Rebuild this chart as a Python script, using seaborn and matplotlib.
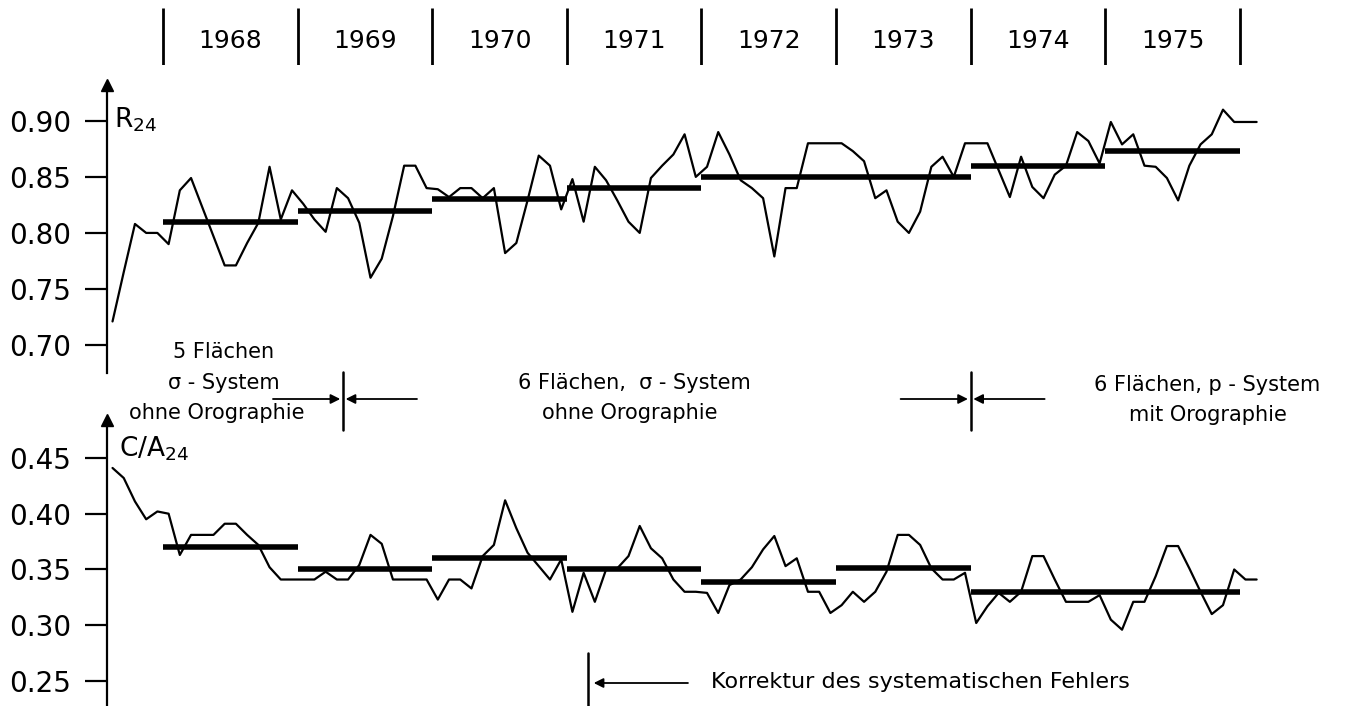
import numpy as np
import pandas as pd
import matplotlib.pyplot as plt
import matplotlib.transforms as mtransforms
import seaborn as sns

# monthly values, first point = August 1967
r24 = [0.721, 0.765, 0.808, 0.800, 0.800, 0.790, 0.838, 0.849, 0.823, 0.797,
       0.771, 0.771, 0.791, 0.809, 0.859, 0.812, 0.838, 0.826, 0.812, 0.801,
       0.840, 0.831, 0.809, 0.760, 0.777, 0.815, 0.860, 0.860, 0.840, 0.839,
       0.832, 0.840, 0.840, 0.831, 0.840, 0.782, 0.791, 0.829, 0.869, 0.860,
       0.821, 0.848, 0.810, 0.859, 0.847, 0.829, 0.810, 0.800, 0.849, 0.860,
       0.870, 0.888, 0.850, 0.859, 0.890, 0.870, 0.847, 0.840, 0.831, 0.779,
       0.840, 0.840, 0.880, 0.880, 0.880, 0.880, 0.873, 0.864, 0.831, 0.838,
       0.810, 0.800, 0.819, 0.859, 0.868, 0.850, 0.880, 0.880, 0.880, 0.856,
       0.832, 0.868, 0.841, 0.831, 0.852, 0.860, 0.890, 0.882, 0.862, 0.899,
       0.879, 0.888, 0.860, 0.859, 0.849, 0.829, 0.860, 0.879, 0.888, 0.910,
       0.899, 0.899, 0.899]
ca24 = [0.441, 0.432, 0.411, 0.395, 0.402, 0.400, 0.363, 0.381, 0.381, 0.381,
        0.391, 0.391, 0.381, 0.372, 0.352, 0.341, 0.341, 0.341, 0.341, 0.348,
        0.341, 0.341, 0.354, 0.381, 0.373, 0.341, 0.341, 0.341, 0.341, 0.323,
        0.341, 0.341, 0.333, 0.362, 0.372, 0.412, 0.387, 0.365, 0.353, 0.341,
        0.359, 0.312, 0.347, 0.321, 0.350, 0.351, 0.362, 0.389, 0.369, 0.360,
        0.341, 0.330, 0.330, 0.329, 0.311, 0.336, 0.341, 0.352, 0.368, 0.380,
        0.353, 0.360, 0.330, 0.330, 0.311, 0.318, 0.330, 0.321, 0.330, 0.348,
        0.381, 0.381, 0.372, 0.351, 0.341, 0.341, 0.347, 0.302, 0.317, 0.329,
        0.321, 0.330, 0.362, 0.362, 0.341, 0.321, 0.321, 0.321, 0.327, 0.305,
        0.296, 0.321, 0.321, 0.344, 0.371, 0.371, 0.351, 0.330, 0.310, 0.318,
        0.350, 0.341, 0.341]

# yearly means (start year, end year, value)
r24_mean_start = [1968, 1969, 1970, 1971, 1972, 1974, 1975]
r24_mean_end = [1969, 1970, 1971, 1972, 1974, 1975, 1976]
r24_mean_val = [0.81, 0.82, 0.83, 0.84, 0.85, 0.86, 0.873]
ca24_mean_start = [1968, 1969, 1970, 1971, 1972, 1973, 1974]
ca24_mean_end = [1969, 1970, 1971, 1972, 1973, 1974, 1976]
ca24_mean_val = [0.37, 0.35, 0.36, 0.35, 0.339, 0.351, 0.33]

years = [1968, 1969, 1970, 1971, 1972, 1973, 1974, 1975]
r24_ticks = [0.70, 0.75, 0.80, 0.85, 0.90]
ca24_ticks = [0.25, 0.30, 0.35, 0.40, 0.45]

# decimal year of each monthly value (mid month, starting Aug 1967)
t = 1967 + (7.5 + np.arange(len(r24))) / 12
df = pd.DataFrame({'t': t, 'R24': r24, 'CA24': ca24})

sns.set_theme(style='white')
plt.rcParams['font.family'] = ['DejaVu Sans']
plt.rcParams['text.color'] = 'black'

W, H = 1351, 706
fig = plt.figure(figsize=(W / 100, H / 100), dpi=100)
xlim = (1967.584, 1976.826)

def px_box(left, top, right, bottom):
    return [left / W, 1 - bottom / H, (right - left) / W, (bottom - top) / H]

ax_top = fig.add_axes(px_box(107, 85, W, 373))
ax_bot = fig.add_axes(px_box(107, 420, W, 706))
ax_year = fig.add_axes(px_box(107, 8, W, 65))

def style_axis(ax, ticks, ylim):
    ax.patch.set_visible(False)
    ax.set_xlim(*xlim)
    ax.set_ylim(*ylim)
    for s in ['top', 'right', 'bottom']:
        ax.spines[s].set_visible(False)
    ax.spines['left'].set_color('black')
    ax.spines['left'].set_linewidth(1.6)
    ax.set_xticks([])
    ax.set_yticks(ticks)
    ax.set_yticklabels([f'{v:.2f}' for v in ticks], fontsize=20)
    ax.tick_params(axis='y', direction='out', length=16, width=1.6,
                   pad=10, colors='black', labelcolor='black', left=True)
    ax.set_xlabel('')
    ax.set_ylabel('')
    ax.plot([0], [1], marker='^', color='black', markersize=9,
            transform=ax.transAxes, clip_on=False)

sns.lineplot(data=df, x='t', y='R24', ax=ax_top, color='black', lw=1.6)
ax_top.hlines(r24_mean_val, r24_mean_start, r24_mean_end, color='black', lw=4)
style_axis(ax_top, r24_ticks, (0.675, 0.932))
ax_top.text(0.006, 0.93, 'R$_{24}$', transform=ax_top.transAxes,
            fontsize=19, va='top', ha='left', color='black')

sns.lineplot(data=df, x='t', y='CA24', ax=ax_bot, color='black', lw=1.6)
ax_bot.hlines(ca24_mean_val, ca24_mean_start, ca24_mean_end, color='black', lw=4)
style_axis(ax_bot, ca24_ticks, (0.2276, 0.484))
ax_bot.text(0.010, 0.95, 'C/A$_{24}$', transform=ax_bot.transAxes,
            fontsize=19, va='top', ha='left', color='black')

# year strip
ax_year.set_xlim(*xlim)
ax_year.set_ylim(0, 1)
ax_year.axis('off')
ax_year.vlines(years + [years[-1] + 1], 0, 1, color='black', lw=2)
for y in years:
    ax_year.text(y + 0.5, 0.42, str(y), ha='center', va='center',
                 fontsize=18, color='black')

# annotations between the panels
tr = mtransforms.blended_transform_factory(ax_top.transData, fig.transFigure)
fy = lambda p: 1 - p / H
txt = dict(transform=tr, ha='center', va='center', fontsize=15,
           color='black', zorder=5)
ax_top.text(1968.45, fy(352), '5 Flächen', **txt)
ax_top.text(1968.45, fy(383), 'σ - System', **txt)
ax_top.text(1968.4, fy(413), 'ohne Orographie', **txt)
ax_top.text(1971.5, fy(383), '6 Flächen,  σ - System', **txt)
ax_top.text(1971.47, fy(413), 'ohne Orographie', **txt)
ax_top.text(1975.76, fy(385), '6 Flächen, p - System', **txt)
ax_top.text(1975.76, fy(415), 'mit Orographie', **txt)

arrow = dict(arrowstyle='-|>', color='black', lw=1.3, mutation_scale=14,
             shrinkA=0, shrinkB=0)
for xb in [1969.337, 1974.0]:
    ax_top.plot([xb, xb], [fy(372), fy(430)], transform=tr, color='black',
                lw=1.8, clip_on=False)
    ax_top.annotate('', xy=(xb - 0.02, fy(399)), xycoords=tr,
                    xytext=(xb - 0.52, fy(399)), textcoords=tr, arrowprops=arrow)
    ax_top.annotate('', xy=(xb + 0.02, fy(399)), xycoords=tr,
                    xytext=(xb + 0.55, fy(399)), textcoords=tr, arrowprops=arrow)

# correction marker in lower panel
trb = mtransforms.blended_transform_factory(ax_bot.transData, fig.transFigure)
ax_bot.plot([1971.16, 1971.16], [fy(653), fy(706)], transform=trb,
            color='black', lw=1.8, clip_on=False)
ax_bot.annotate('', xy=(1971.2, fy(683)), xycoords=trb,
                xytext=(1971.9, fy(683)), textcoords=trb, arrowprops=arrow)
ax_bot.text(1972.07, fy(682), 'Korrektur des systematischen Fehlers',
            transform=trb, ha='left', va='center', fontsize=16, color='black')

fig.savefig('out.png', dpi=100)
